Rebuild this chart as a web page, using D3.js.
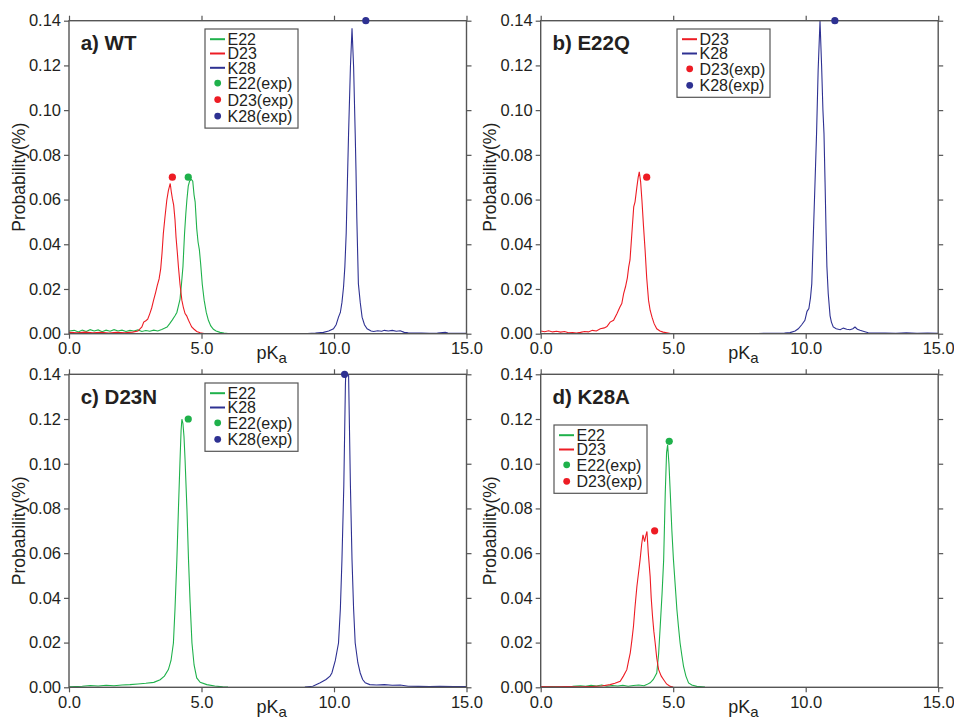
<!DOCTYPE html>
<html>
<head>
<meta charset="utf-8">
<script src="https://cdn.jsdelivr.net/npm/d3@7"></script>
<style>
  body { margin: 0; background: #fff; }
  svg { display: block; font-family: "Liberation Sans", Arial, sans-serif; }
</style>
</head>
<body>
<div id="chart"></div>
<script>
// pKa distributions, [pKa, probability]
var wtE22 = [[0,0.0012],[0.2,0.0015],[0.35,0.0008],[0.5,0.0016],[0.65,0.0010],[0.8,0.0018],[0.95,0.0012],[1.1,0.0017],[1.25,0.0009],[1.4,0.0016],[1.55,0.0011],[1.7,0.0018],[1.85,0.0012],[2.0,0.0016],[2.15,0.0010],[2.3,0.0015],[2.45,0.0012],[2.6,0.0017],[2.75,0.0010],[2.9,0.0014],[3.05,0.0011],[3.2,0.0016],[3.35,0.0012],[3.5,0.0019],[3.6,0.0024],[3.7,0.0030],[3.8,0.0045],[3.9,0.0062],[4.0,0.0080],[4.07,0.0095],[4.13,0.0125],[4.19,0.0155],[4.25,0.0230],[4.3,0.0300],[4.36,0.0448],[4.41,0.0540],[4.45,0.0600],[4.5,0.0660],[4.55,0.0683],[4.62,0.0690],[4.67,0.0682],[4.72,0.0620],[4.76,0.0590],[4.82,0.0470],[4.87,0.0410],[4.92,0.0375],[4.97,0.0310],[5.03,0.0220],[5.1,0.0150],[5.18,0.0095],[5.26,0.0060],[5.35,0.0035],[5.45,0.0020],[5.55,0.0012],[5.7,0.0006],[5.85,0.0003],[6.0,0.0001],[6.2,0.0000]];
var wtD23 = [[0,0.0006],[0.3,0.0004],[0.6,0.0007],[0.9,0.0004],[1.2,0.0006],[1.5,0.0003],[1.8,0.0006],[2.1,0.0004],[2.4,0.0007],[2.6,0.0012],[2.75,0.0030],[2.82,0.0052],[2.9,0.0058],[2.97,0.0065],[3.05,0.0090],[3.12,0.0115],[3.19,0.0149],[3.27,0.0185],[3.33,0.0215],[3.4,0.0245],[3.46,0.0290],[3.51,0.0360],[3.56,0.0448],[3.62,0.0520],[3.69,0.0597],[3.75,0.0640],[3.82,0.0672],[3.86,0.0635],[3.9,0.0605],[3.95,0.0575],[4.0,0.0510],[4.04,0.0430],[4.09,0.0360],[4.13,0.0298],[4.19,0.0220],[4.26,0.0149],[4.32,0.0115],[4.38,0.0090],[4.44,0.0080],[4.51,0.0060],[4.57,0.0045],[4.63,0.0030],[4.72,0.0020],[4.82,0.0010],[4.95,0.0004],[5.1,0.0001]];
var wtK28 = [[9.0,0.0001],[9.3,0.0003],[9.6,0.0006],[9.8,0.0012],[9.98,0.0022],[10.08,0.0040],[10.17,0.0074],[10.24,0.0095],[10.3,0.0140],[10.36,0.0209],[10.41,0.0300],[10.46,0.0448],[10.51,0.0700],[10.55,0.0896],[10.62,0.1194],[10.68,0.1366],[10.74,0.1194],[10.8,0.0896],[10.83,0.0730],[10.86,0.0522],[10.92,0.0224],[10.99,0.0140],[11.06,0.0074],[11.15,0.0040],[11.25,0.0022],[11.4,0.0012],[11.5,0.0010],[11.65,0.0013],[11.8,0.0011],[11.9,0.0015],[12.05,0.0012],[12.2,0.0015],[12.35,0.0011],[12.5,0.0013],[12.65,0.0006],[12.8,0.0004],[13.0,0.0003],[13.3,0.0003],[13.6,0.0002],[13.9,0.0003],[14.2,0.0006],[14.3,0.0003],[14.6,0.0002],[15,0.0002]];

var e22qD23 = [[0,0.0012],[0.15,0.0009],[0.3,0.0013],[0.45,0.0008],[0.6,0.0011],[0.75,0.0007],[0.9,0.0010],[1.05,0.0004],[1.2,0.0005],[1.35,0.0003],[1.5,0.0006],[1.65,0.0010],[1.8,0.0008],[1.95,0.0015],[2.1,0.0012],[2.25,0.0022],[2.4,0.0026],[2.5,0.0032],[2.62,0.0052],[2.75,0.0060],[2.88,0.0090],[2.99,0.0119],[3.06,0.0135],[3.13,0.0179],[3.2,0.0210],[3.27,0.0250],[3.32,0.0298],[3.37,0.0330],[3.44,0.0448],[3.51,0.0567],[3.56,0.0590],[3.63,0.0657],[3.68,0.0700],[3.72,0.0724],[3.77,0.0680],[3.82,0.0597],[3.88,0.0480],[3.94,0.0373],[4.0,0.0250],[4.07,0.0149],[4.13,0.0105],[4.2,0.0074],[4.28,0.0045],[4.38,0.0022],[4.5,0.0012],[4.62,0.0007],[4.76,0.0004],[4.9,0.0001]];
var e22qK28 = [[8.2,0.0001],[8.8,0.0002],[9.2,0.0003],[9.41,0.0005],[9.6,0.0012],[9.72,0.0022],[9.85,0.0040],[9.97,0.0060],[10.05,0.0100],[10.12,0.0112],[10.18,0.0160],[10.23,0.0224],[10.29,0.0448],[10.35,0.0670],[10.41,0.0896],[10.47,0.1180],[10.54,0.1400],[10.6,0.1200],[10.65,0.1000],[10.69,0.0896],[10.73,0.0679],[10.77,0.0448],[10.8,0.0300],[10.85,0.0180],[10.92,0.0080],[10.97,0.0052],[11.04,0.0030],[11.15,0.0022],[11.3,0.0018],[11.42,0.0025],[11.55,0.0020],[11.67,0.0018],[11.78,0.0022],[11.86,0.0030],[11.95,0.0020],[12.05,0.0015],[12.2,0.0010],[12.36,0.0004],[12.6,0.0003],[13.0,0.0003],[13.4,0.0002],[13.8,0.0004],[14.2,0.0002],[14.6,0.0003],[15,0.0002]];

var d23nE22 = [[0,0.0002],[0.5,0.0005],[0.8,0.0008],[1.1,0.0006],[1.4,0.0009],[1.7,0.0007],[2.0,0.0010],[2.3,0.0012],[2.6,0.0015],[2.9,0.0018],[3.2,0.0022],[3.44,0.0034],[3.6,0.0050],[3.75,0.0079],[3.85,0.0120],[3.94,0.0198],[4.0,0.0350],[4.07,0.0570],[4.13,0.0800],[4.19,0.1017],[4.23,0.1150],[4.26,0.1199],[4.3,0.1180],[4.34,0.1120],[4.38,0.1017],[4.45,0.0800],[4.51,0.0570],[4.57,0.0380],[4.64,0.0198],[4.72,0.0100],[4.82,0.0042],[4.95,0.0022],[5.2,0.0012],[5.5,0.0006],[5.8,0.0002],[6.0,0.0001]];
var d23nK28 = [[8.9,0.0001],[9.2,0.0005],[9.48,0.0020],[9.7,0.0035],[9.85,0.0050],[9.92,0.0064],[10.05,0.0120],[10.17,0.0198],[10.24,0.0350],[10.3,0.0570],[10.37,0.0900],[10.43,0.1350],[10.49,0.1600],[10.55,0.1400],[10.62,0.0900],[10.68,0.0570],[10.74,0.0350],[10.8,0.0198],[10.9,0.0110],[10.99,0.0064],[11.08,0.0035],[11.18,0.0020],[11.35,0.0012],[11.6,0.0010],[11.9,0.0012],[12.2,0.0009],[12.5,0.0010],[12.8,0.0005],[13.2,0.0004],[13.6,0.0003],[14.0,0.0004],[14.5,0.0003],[15,0.0003]];

var k28aE22 = [[0,0.0001],[0.4,0.0003],[0.8,0.0002],[1.2,0.0004],[1.5,0.0007],[1.7,0.0005],[1.9,0.0009],[2.1,0.0006],[2.3,0.0010],[2.5,0.0005],[2.7,0.0008],[2.9,0.0006],[3.1,0.0009],[3.3,0.0005],[3.5,0.0008],[3.7,0.0010],[3.9,0.0007],[4.0,0.0012],[4.13,0.0020],[4.25,0.0035],[4.38,0.0064],[4.45,0.0150],[4.51,0.0272],[4.58,0.0420],[4.64,0.0570],[4.7,0.0868],[4.75,0.1050],[4.79,0.1084],[4.84,0.1000],[4.89,0.0868],[4.95,0.0700],[5.01,0.0570],[5.08,0.0450],[5.14,0.0347],[5.2,0.0270],[5.26,0.0198],[5.33,0.0140],[5.39,0.0094],[5.48,0.0050],[5.58,0.0020],[5.7,0.0010],[5.89,0.0004],[6.1,0.0002],[6.2,0.0001]];
var k28aD23 = [[0,0.0003],[0.5,0.0002],[1.0,0.0003],[1.5,0.0002],[2.0,0.0004],[2.3,0.0006],[2.62,0.0012],[2.8,0.0018],[3.0,0.0027],[3.12,0.0050],[3.25,0.0079],[3.32,0.0120],[3.38,0.0154],[3.44,0.0210],[3.5,0.0272],[3.56,0.0360],[3.63,0.0451],[3.69,0.0510],[3.75,0.0570],[3.81,0.0640],[3.86,0.0682],[3.92,0.0652],[3.97,0.0680],[4.01,0.0697],[4.06,0.0600],[4.13,0.0496],[4.17,0.0400],[4.22,0.0317],[4.27,0.0250],[4.32,0.0198],[4.38,0.0130],[4.45,0.0079],[4.55,0.0050],[4.64,0.0034],[4.75,0.0015],[4.89,0.0004],[5.0,0.0001]];

// experimental pKa markers [residue, pKa, height]
var wtExp = [["E22", 4.5, 0.07], ["D23", 3.9, 0.07], ["K28", 11.2, 0.14]];
var e22qExp = [["D23", 4.0, 0.07], ["K28", 11.1, 0.14]];
var d23nExp = [["E22", 4.5, 0.12], ["K28", 10.4, 0.14]];
var k28aExp = [["E22", 4.85, 0.11], ["D23", 4.3, 0.07]];

var xTicks = [0, 5, 10, 15];
var yTicks = [0, 0.02, 0.04, 0.06, 0.08, 0.10, 0.12, 0.14];

var colors = { E22: "#1fb14b", D23: "#ed1c24", K28: "#2e3192" };

var panels = [
    { title: "a) WT", left: 69, top: 20.7, lines: [["E22", wtE22], ["D23", wtD23], ["K28", wtK28]], exp: wtExp, legX: 136, legY: 8.3 },
    { title: "b) E22Q", left: 540.7, top: 20.7, lines: [["D23", e22qD23], ["K28", e22qK28]], exp: e22qExp, legX: 136.3, legY: 8.3 },
    { title: "c) D23N", left: 69, top: 374.3, lines: [["E22", d23nE22], ["K28", d23nK28]], exp: d23nExp, legX: 136, legY: 8.7 },
    { title: "d) K28A", left: 540.7, top: 374.3, lines: [["E22", k28aE22], ["D23", k28aD23]], exp: k28aExp, legX: 13.3, legY: 50.7 }
];

var width = 954, height = 720;
var pw = 397.5, ph = 313;

var svg = d3.select("#chart").append("svg")
    .attr("width", width)
    .attr("height", height);

var x = d3.scaleLinear().domain([0, 15]).range([0, pw]);
var y = d3.scaleLinear().domain([0, 0.14]).range([ph, 0]);

var line = d3.line()
    .x(d => x(d[0]))
    .y(d => y(d[1]));

panels.forEach(function (p, i) {
    var g = svg.append("g").attr("transform", "translate(" + p.left + "," + p.top + ")");

    g.append("clipPath").attr("id", "clip" + i)
        .append("rect").attr("width", pw).attr("height", ph);

    // curves
    g.append("g").attr("clip-path", "url(#clip" + i + ")")
        .selectAll("path")
        .data(p.lines)
        .join("path")
        .attr("d", d => line(d[1]))
        .attr("fill", "none")
        .attr("stroke", d => colors[d[0]])
        .attr("stroke-width", 1.1);

    // axes
    var axL = g.append("g").call(d3.axisLeft(y).tickValues(yTicks).tickSize(5).tickPadding(3).tickFormat(d3.format(".2f")));
    var axB = g.append("g").attr("transform", "translate(0," + ph + ")")
        .call(d3.axisBottom(x).tickValues(xTicks).tickSize(5).tickPadding(3.5).tickFormat(d3.format(".1f")));
    var axR = g.append("g").attr("transform", "translate(" + pw + ",0)")
        .call(d3.axisRight(y).tickValues(yTicks).tickSize(5).tickFormat(""));
    var axT = g.append("g").call(d3.axisTop(x).tickValues(xTicks).tickSize(5).tickFormat(""));
    [axL, axB, axR, axT].forEach(function (a) {
        a.select(".domain").remove();
        a.selectAll("line").attr("stroke", "#555").attr("stroke-width", 1.2);
        a.selectAll("text").attr("fill", "#231f20").style("font-size", "16.5px")
            .style("font-family", "'Liberation Sans', Arial, sans-serif");
    });

    g.append("rect")
        .attr("width", pw).attr("height", ph)
        .attr("fill", "none")
        .attr("stroke", "#555")
        .attr("stroke-width", 1.4);

    // experimental values
    g.selectAll(".exp")
        .data(p.exp)
        .join("circle")
        .attr("class", "exp")
        .attr("cx", d => x(d[1]))
        .attr("cy", d => y(d[2]))
        .attr("r", 3.6)
        .attr("fill", d => colors[d[0]]);

    // title
    g.append("text")
        .attr("x", 11.7).attr("y", 29.3)
        .attr("fill", "#231f20")
        .style("font-size", "20.5px")
        .style("font-weight", "bold")
        .text(p.title);

    // axis labels
    var xl = g.append("text")
        .attr("x", pw / 2 + 4).attr("y", ph + 25.3)
        .attr("text-anchor", "middle")
        .attr("fill", "#231f20")
        .style("font-size", "18px");
    xl.append("tspan").text("pK");
    xl.append("tspan").attr("dy", 4.3).style("font-size", "15px").text("a");

    g.append("text")
        .attr("transform", "translate(-44.5," + ph / 2 + ") rotate(-90)")
        .attr("text-anchor", "middle")
        .attr("fill", "#231f20")
        .style("font-size", "17.5px")
        .text("Probability(%)");

    // legend
    var rows = [];
    var yy = 16;
    p.lines.forEach(function (l, k) {
        if (k > 0) yy += 14.3;
        rows.push({ kind: "line", name: l[0], y: yy });
    });
    p.exp.forEach(function (e, k) {
        yy += (k == 0) ? 15.5 : 16.5;
        rows.push({ kind: "dot", name: e[0], y: yy });
    });
    var lg = g.append("g").attr("transform", "translate(" + p.legX + "," + p.legY + ")");
    lg.append("rect")
        .attr("width", 93).attr("height", yy + 6)
        .attr("fill", "#fff")
        .attr("stroke", "#555")
        .attr("stroke-width", 1.2);
    rows.forEach(function (r) {
        if (r.kind == "line") {
            lg.append("line")
                .attr("x1", 5).attr("x2", 20)
                .attr("y1", r.y - 5.8).attr("y2", r.y - 5.8)
                .attr("stroke", colors[r.name]).attr("stroke-width", 2);
        } else {
            lg.append("circle")
                .attr("cx", 12.7).attr("cy", r.y - 6)
                .attr("r", 3.4)
                .attr("fill", colors[r.name]);
        }
        lg.append("text")
            .attr("x", 22.5).attr("y", r.y)
            .attr("fill", "#231f20")
            .style("font-size", "16px")
            .text(r.kind == "line" ? r.name : r.name + "(exp)");
    });
});
</script>
</body>
</html>
